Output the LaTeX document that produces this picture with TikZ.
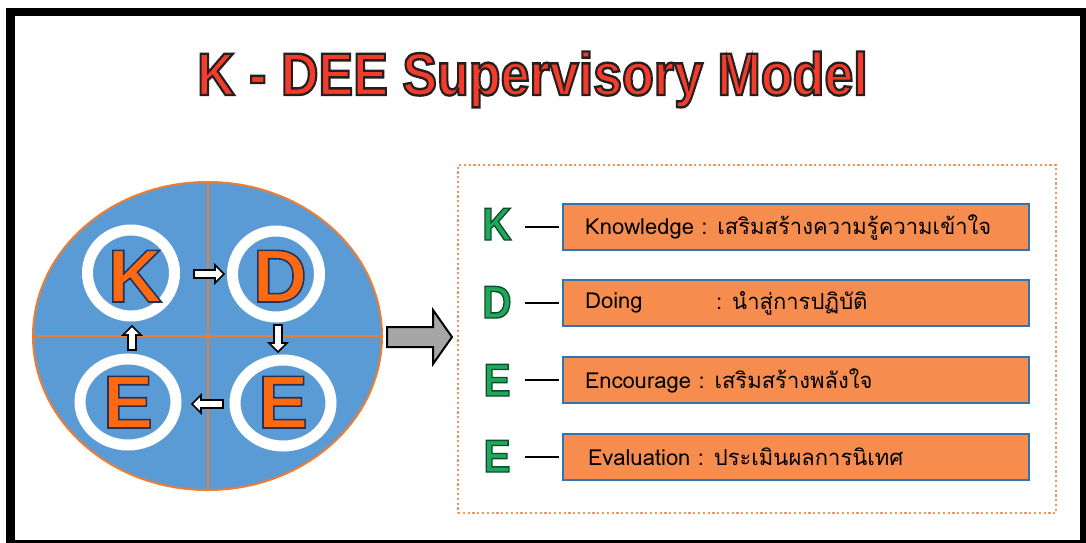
\documentclass[tikz,border=0pt]{standalone}
\usepackage{fontspec}
\setmainfont{Liberation Sans}
\newfontfamily\thaifont[Script=Thai]{Loma}
\usetikzlibrary{shapes.geometric,calc}
\definecolor{bigblue}{HTML}{5B9BD5}
\definecolor{lineorange}{HTML}{ED7D31}
\definecolor{letterorange}{HTML}{FF6A10}
\definecolor{titlered}{HTML}{F43C2C}
\definecolor{greenletter}{HTML}{1FA85C}
\definecolor{boxorange}{HTML}{F68D4E}
\definecolor{boxblue}{HTML}{2E75B6}
\definecolor{dotorange}{HTML}{EB9560}
\definecolor{arrowgray}{HTML}{A6A6A6}
% outlined text (fill + stroke): #1 fill colour, #2 stroke rgb numbers, #3 stroke width, #4 text
\newcommand{\olt}[4]{\textcolor{#1}{\special{pdf:literal direct #2 RG 2 Tr #3 w}#4\special{pdf:literal direct 0 Tr 0.4 w}}}
% block arrow: #1 style, #2 centre, #3 angle, #4 length, #5 shaft half, #6 head half, #7 head length
\newcommand{\blkarrow}[7]{%
\begin{scope}[shift={(#2)},rotate=#3]
\draw[#1] (-#4/2,-#5) -- (#4/2-#7,-#5) -- (#4/2-#7,-#6) -- (#4/2,0) -- (#4/2-#7,#6) -- (#4/2-#7,#5) -- (-#4/2,#5) -- cycle;
\end{scope}}
\tikzset{
  ring/.style={ellipse,draw=white,line width=11pt,inner sep=0pt},
  bigletter/.style={anchor=base,inner sep=0pt,font=\fontsize{75}{75}\selectfont\bfseries},
  greenlet/.style={anchor=base,inner sep=0pt,font=\fontsize{45}{45}\selectfont\bfseries},
  smallarrow/.style={draw=black,fill=white,line width=1.6pt,line join=miter},
  infobox/.style={draw=boxblue,fill=boxorange,line width=2pt,minimum width=466pt,minimum height=46pt,inner sep=0pt},
  infotext/.style={anchor=west,inner sep=0pt,font=\thaifont\fontsize{22}{22}\selectfont},
  rowdash/.style={draw=black,line width=2pt},
}
\begin{document}
\begin{tikzpicture}[x=1pt,y=-1pt]
\useasboundingbox (0,0) rectangle (1086,543);
\fill[white] (0,0) rectangle (1086,543);
\fill[black] (6,8) rectangle (1086,543);
\fill[white] (15,16) rectangle (1080,540);
% title
\node[anchor=base,inner sep=0pt] (title) at (532.5,95) {\scalebox{0.867}[1]{\fontsize{60}{60}\selectfont\bfseries\olt{titlered}{0.15 0.12 0.12}{2.4}{K - DEE Supervisory Model}}};
% big ellipse
\node[ellipse,draw=lineorange,fill=bigblue,line width=2pt,minimum width=349pt,minimum height=308pt,inner sep=0pt] (big) at (207.5,336) {};
\draw[lineorange,line width=2pt] (big.north) -- (big.south);
\draw[lineorange,line width=2pt] (big.west) -- (big.east);
% rings
\node[ring,minimum width=87pt,minimum height=86pt] (cK) at (131,273) {};
\node[ring,minimum width=87pt,minimum height=86pt] (cD) at (276,274) {};
\node[ring,minimum width=96pt,minimum height=86pt] (cE1) at (128,402) {};
\node[ring,minimum width=96pt,minimum height=86pt] (cE2) at (283,403) {};
% letters
\node[bigletter] (lK) at (135,302) {\olt{letterorange}{0.13 0.2 0.36}{1.6}{K}};
\node[bigletter] (lD) at (280,302) {\olt{letterorange}{0.13 0.2 0.36}{1.6}{D}};
\node[bigletter] (lE1) at (128,428) {\olt{letterorange}{0.13 0.2 0.36}{1.6}{E}};
\node[bigletter] (lE2) at (283,428) {\olt{letterorange}{0.13 0.2 0.36}{1.6}{E}};
% small cycle arrows
\coordinate (aKD) at (209,274);
\coordinate (aDE) at (278,338.5);
\coordinate (aEE) at (207.5,404);
\coordinate (aEK) at (132,338);
\blkarrow{smallarrow}{aKD}{0}{30}{4}{9}{9}
\blkarrow{smallarrow}{aDE}{-90}{27}{4}{9}{9}
\blkarrow{smallarrow}{aEE}{180}{31}{4}{9}{9}
\blkarrow{smallarrow}{aEK}{90}{24}{4}{9}{9}
% big gray arrow
\coordinate (abig) at (419.5,337);
\blkarrow{draw=black,fill=arrowgray,line width=2pt,line join=miter}{abig}{0}{65}{10}{27}{19}
% dotted frame
\node[draw=dotorange,line width=2.5pt,dash pattern=on 2.2pt off 2.6pt,minimum width=598pt,minimum height=348pt,inner sep=0pt] (frame) at (757,339) {};
% rows
\node[infobox] (bK) at (796,226.5) {};
\node[infobox] (bD) at (796,302.5) {};
\node[infobox] (bE1) at (796,380) {};
\node[infobox] (bE2) at (796,456.5) {};
\node[greenlet] (gK) at (497,240) {\scalebox{0.9}[1.02]{\olt{greenletter}{0.05 0.3 0.17}{1.4}{K}}};
\node[greenlet] (gD) at (497,318) {\scalebox{0.9}[1.02]{\olt{greenletter}{0.05 0.3 0.17}{1.4}{D}}};
\node[greenlet] (gE1) at (497,396) {\scalebox{0.9}[1.02]{\olt{greenletter}{0.05 0.3 0.17}{1.4}{E}}};
\node[greenlet] (gE2) at (497,472) {\scalebox{0.9}[1.02]{\olt{greenletter}{0.05 0.3 0.17}{1.4}{E}}};
\foreach \g/\b in {gK/bK,gD/bD,gE1/bE1,gE2/bE2}{
  \draw[rowdash] ($(\b.west)+(-37,0)$) coordinate (d\g) -- ($(\b.west)+(-3,0)$);
}
\node[infotext] (tK) at (585,227) {Knowledge : เสริมสร้างความรู้ความเข้าใจ};
\node[infotext] (tD) at (585,303) {Doing};
\node[infotext] (tD2) at (716,303) {: นำสู่การปฏิบัติ};
\node[infotext] (tE1) at (585,380.5) {Encourage : เสริมสร้างพลังใจ};
\node[infotext] (tE2) at (588,457) {Evaluation : ประเมินผลการนิเทศ};
\end{tikzpicture}
\end{document}
